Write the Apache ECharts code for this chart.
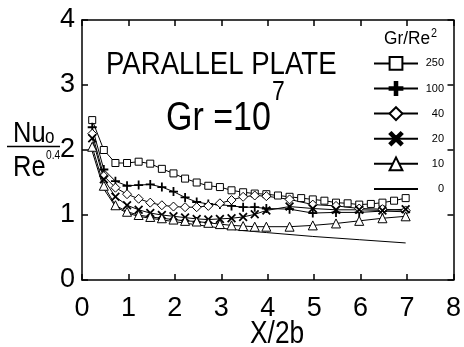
<!DOCTYPE html>
<html><head><meta charset="utf-8">
<script src="https://cdn.jsdelivr.net/npm/echarts@6/dist/echarts.min.js"></script>
<style>html,body{margin:0;padding:0;background:#fff}#c{width:464px;height:347px}</style>
</head><body><div id="c"></div>
<script>
var FONT = "'Liberation Sans',Arial,sans-serif";

// Gr/Re^2 = 250 : square markers, every 0.25
var xSquare = [0.22,0.47,0.72,0.97,1.22,1.47,1.72,1.97,2.22,2.47,2.72,2.97,3.22,3.47,3.72,3.97,4.22,4.47,4.72,4.97,5.22,5.47,5.72,5.97,6.22,6.47,6.72,6.97];
var ySquare = [2.46,2.00,1.80,1.80,1.82,1.79,1.71,1.64,1.56,1.50,1.45,1.43,1.38,1.35,1.33,1.32,1.30,1.28,1.26,1.24,1.22,1.19,1.18,1.16,1.17,1.19,1.22,1.26];

// other series share these stations
var xOther = [0.22,0.47,0.72,0.97,1.22,1.47,1.72,1.97,2.22,2.47,2.72,2.97,3.22,3.47,3.72,3.97,4.47,4.97,5.47,5.97,6.47,6.97];
var yPlus     = [2.35,1.70,1.52,1.45,1.46,1.47,1.43,1.36,1.27,1.20,1.17,1.16,1.14,1.12,1.12,1.10,1.09,1.03,1.04,1.04,1.06,1.05];
var yDiamond  = [2.25,1.60,1.42,1.32,1.25,1.19,1.15,1.13,1.12,1.12,1.14,1.18,1.23,1.28,1.30,1.29,1.24,1.16,1.14,1.10,1.09,1.07];
var yCross    = [2.18,1.55,1.28,1.15,1.08,1.03,1.00,0.98,0.96,0.94,0.93,0.94,0.95,0.97,1.01,1.07,1.13,1.10,1.08,1.08,1.07,1.09];
var yTriangle = [2.05,1.45,1.15,1.05,1.00,0.97,0.95,0.93,0.91,0.90,0.88,0.86,0.84,0.83,0.82,0.82,0.82,0.84,0.87,0.91,0.95,0.98];

// Gr/Re^2 = 0 : plain line
var xZero = [0.22,0.47,0.72,0.97,1.22,1.47,1.97,2.47,2.97,3.47,3.97,4.97,5.97,6.97];
var yZero = [1.98,1.40,1.13,1.03,0.98,0.95,0.90,0.85,0.80,0.76,0.73,0.67,0.62,0.57];

var seriesNames = ['250','100','40','20','10','0'];
var xTicks = [0,1,2,3,4,5,6,7,8];
var yTicks = [0,1,2,3,4];

function pairs(xs, ys){ return xs.map(function(x,i){ return [x, ys[i]]; }); }

var PLUS = 'path://M4,0H6V4H10V6H6V10H4V6H0V4H4Z';
var CROSS = 'path://M1.4,0L5,3.6L8.6,0L10,1.4L6.4,5L10,8.6L8.6,10L5,6.4L1.4,10L0,8.6L3.6,5L0,1.4Z';

function mk(name, xs, ys, symbol, size, filled){
  return {
    name: name, type: 'line', data: pairs(xs, ys),
    symbol: symbol, symbolSize: size, showSymbol: symbol !== 'none',
    lineStyle: {color: '#000', width: 1},
    itemStyle: {color: filled ? '#000' : '#fff', borderColor: '#000', borderWidth: filled ? 0 : 1},
    emphasis: {disabled: true}, animation: false, z: 3
  };
}
// text placed by its top edge
function txt(text, x, top, size, sx){
  return {type: 'text', x: x, y: top, scaleX: sx, silent: true,
    style: {text: text, fill: '#000', font: 'normal ' + size + 'px ' + FONT,
      align: 'left', verticalAlign: 'top'}};
}

var chart = echarts.init(document.getElementById('c'), null, {renderer: 'canvas'});
var axisCommon = {
  type: 'value', axisLine: {show: true, onZero: false, lineStyle: {color: '#000', width: 1.5}},
  axisTick: {show: true, inside: true, length: 6, lineStyle: {color: '#000', width: 1.5}},
  splitLine: {show: false}
};
chart.setOption({
  animation: false,
  backgroundColor: '#fff',
  grid: {left: 82, right: 6, top: 20, bottom: 67, containLabel: false},
  xAxis: [
    Object.assign({}, axisCommon, {position: 'bottom', min: 0, max: 8, interval: 1,
      axisLabel: {color: '#000', fontSize: 27, fontFamily: FONT, margin: 15,
        formatter: function(v){ return xTicks.indexOf(v) >= 0 ? String(v) : ''; }}}),
    Object.assign({}, axisCommon, {position: 'top', min: 0, max: 8, interval: 1, axisLabel: {show: false}})
  ],
  yAxis: [
    Object.assign({}, axisCommon, {position: 'left', min: 0, max: 4, interval: 1,
      axisLabel: {color: '#000', fontSize: 27, fontFamily: FONT, margin: 7,
        formatter: function(v){ return yTicks.indexOf(v) >= 0 ? String(v) : ''; }}}),
    Object.assign({}, axisCommon, {position: 'right', min: 0, max: 4, interval: 1, axisLabel: {show: false}})
  ],
  legend: {
    orient: 'vertical', left: 368, top: 51, itemWidth: 44, itemHeight: 16, itemGap: 10.3,
    padding: 5,
    data: seriesNames.map(function(n){ return n === '0' ? {name: n, itemStyle: {opacity: 0}} : n; }),
    selectedMode: false,
    itemStyle: {borderWidth: 2},
    formatter: '{r|{name}}',
    textStyle: {color: '#000', fontFamily: FONT, fontSize: 11,
      rich: {r: {width: 21, align: 'right', fontFamily: FONT, fontSize: 11, color: '#000'}}}
  },
  graphic: [
    txt('PARALLEL PLATE', 106, 50, 31, 0.89),
    txt('Gr =10', 166, 99, 40, 0.85),
    txt('7', 272, 79, 27, 0.85),
    txt('Gr/Re', 384, 30, 18, 0.96),
    txt('2', 431, 28, 12, 0.9),
    txt('X/2b', 250, 319, 31, 0.85),
    txt('Nu', 13, 119, 30, 0.85),
    txt('o', 45, 127, 20, 0.85),
    {type: 'line', silent: true, shape: {x1: 7, y1: 146.5, x2: 60, y2: 146.5}, style: {stroke: '#000', lineWidth: 1.5}},
    txt('Re', 13, 153, 30, 0.85),
    txt('0.4', 46, 150, 12, 0.85)
  ],
  series: [
    mk('250', xSquare, ySquare, 'rect', 7, false),
    mk('100', xOther, yPlus, PLUS, 9, true),
    mk('40', xOther, yDiamond, 'diamond', 9, false),
    mk('20', xOther, yCross, CROSS, 9, true),
    mk('10', xOther, yTriangle, 'triangle', 9, false),
    mk('0', xZero, yZero, 'none', 0, false)
  ]
});
</script></body></html>
